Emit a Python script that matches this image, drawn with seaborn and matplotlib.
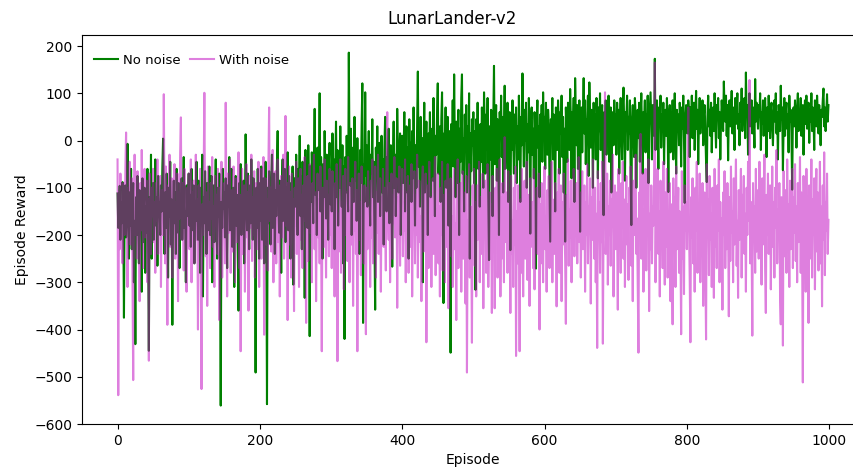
import matplotlib
matplotlib.use("Agg")
import matplotlib.pyplot as plt
import seaborn as sns
import numpy as np
import pandas as pd

title = "LunarLander-v2"
x_label = "Episode"
y_label = "Episode Reward"
series_names = ["No noise", "With noise"]

no_noise = [
    -112, -185, -140, -96, -210, -130, -175, -88, -150, -375,
    -120, -95, -205, -160, -7, -140, -250, -110, -180, -60,
    -230, -145, -90, -300, -170, -431, -120, -200, -75, -160,
    -260, -105, -190, -135, -320, -80, -215, -150, -100, -280,
    -140, -195, -60, -230, -445, -120, -170, -30, -250, -115,
    -90, -210, -145, -40, -180, -120, -265, -75, -160, -130,
    -200, -95, -150, -55, 4, -170, -240, -110, -185, -70,
    -135, -290, -100, -160, -45, -220, -125, -390, -150, -85,
    -175, -110, -240, -60, -140, -195, -90, -270, -120, -165,
    -80, -210, -130, -35, -185, -150, -300, -95, -160, -120,
    -70, -180, -115, -225, -60, -140, -190, -95, -260, -130,
    -170, -45, -150, -210, -85, -125, -280, -100, -160, -30,
    -330, -120, -175, -65, -140, -240, -90, -190, -110, -55,
    -200, -135, -75, -300, -150, -95, -215, -120, -40, -175,
    -250, -100, -160, -70, -230, -561, -130, -185, -60, -145,
    -110, -205, -80, -160, -270, -95, -140, -35, -190, -125,
    -60, -225, -150, -100, -310, -130, -75, -180, -115, -240,
    -360, -90, -145, -50, -200, -120, -165, -85, -260, -140,
    13, -110, -190, -70, -150, -230, -95, -175, -40, -135,
    -210, -80, -155, -120, -491, -100, -185, -60, -145, -250,
    -90, -170, -55, -210, -130, -80, -260, -115, -45, -150,
    -558, -100, -175, -65, -140, -220, -90, -30, -185, -120,
    -70, -240, -105, -160, -50, 20, -130, -195, -85, -150,
    -280, -95, -40, -170, -120, -60, -215, -100, -145, -25,
    -190, -75, -130, -250, -90, -160, -55, -305, -110, -80,
    -140, -30, -110, -200, -60, -95, 10, -160, -75, -230,
    -45, -120, -85, -333, -20, -150, -70, -185, -10, -100,
    -414, -55, -130, -25, -90, -175, -40, 67, -115, -60,
    -200, -15, -105, -70, 100, -150, -35, -90, -250, -50,
    -120, 20, -80, -165, -30, -100, -210, -45, -5, -135,
    -70, -150, 15, -90, -40, -230, -60, 40, -120, -20,
    -180, -50, -100, 30, -75, -140, -10, -260, -55, -420,
    -35, -110, 10, -80, -150, 186, -45, -95, 25, -200,
    -60, -15, -130, 50, -85, -40, -170, 5, -110, -65,
    -240, -20, -90, 35, 121, -386, -50, -130, 102, -75,
    -10, -140, -60, 20, -95, -180, -30, -70, 45, -120,
    -45, -200, -358, -15, -85, 30, -130, -55, -5, -160,
    -70, 10, -110, -40, -220, -20, 50, -90, -150, -35,
    -60, 25, -175, -80, -10, -125, -267, -45, 40, -100,
    -30, -160, -65, 67, -15, -110, -50, 15, -200, -75,
    10, -90, -30, 60, -150, -45, 30, -110, -15, -250,
    45, -60, -5, -130, 20, -80, 70, -40, -180, -10,
    -100, 35, 146, -55, -20, -140, 50, -75, 5, -300,
    -35, 80, -110, -15, 40, -65, -200, 15, -45, 60,
    -120, -25, 25, -85, 90, -50, -160, 10, -30, 55,
    121, -70, -20, 30, -130, 45, 102, -60, -344, 15,
    -40, 70, -100, -10, 50, -180, 20, -75, -449, 35,
    -30, 85, -55, 140, -15, -120, 40, -90, 10, 65,
    -200, 25, -45, 90, 140, -70, 5, -150, 55, -20,
    75, -110, 30, -40, 100, -250, 15, -65, 45, -10,
    60, -90, 20, -316, 45, -30, 80, -60, 10, -140,
    35, -45, 70, -10, -100, 102, 25, -70, 55, -20,
    90, -120, -253, 30, -40, 65, 5, -160, 40, 158,
    -50, 20, 75, -85, 45, -20, -200, 60, 10, 95,
    -35, 50, -110, 15, 116, -60, 35, -15, 80, -130,
    25, 60, -232, 40, -20, 85, 10, -70, 55, -5,
    70, -90, 30, -40, 95, 15, -130, 50, -10, 142,
    20, -55, 65, 0, 80, -100, 35, -25, 90, 10,
    -197, 45, 70, -30, 25, -80, 60, 15, -271, 40,
    85, -15, 30, -120, 55, 5, 75, -45, 102, 20,
    50, -60, 80, 10, -30, 65, 35, -95, -214, 45,
    20, 90, -40, 55, 5, -150, 70, 30, -20, 85,
    40, -70, 60, 15, 95, -35, 50, -110, 25, -214,
    70, 10, -45, 80, 35, -20, 109, 45, -80, 60,
    20, 90, -130, 132, 50, -10, 75, -60, 30, 85,
    -193, 40, 70, -25, 60, 132, 15, 85, -50, 45,
    25, 95, -75, 123, 30, -15, 65, 50, -100, 80,
    10, 55, -40, 90, 35, -80, 70, 20, 100, -20,
    45, 75, -60, -158, 60, 25, 85, -30, 50, 10,
    95, -45, 40, 70, -110, 30, 60, -10, 85, 40,
    55, -30, 80, 20, 65, -70, 45, 90, 10, -40,
    70, 112, 30, -85, 60, 40, 95, -20, 50, 15,
    85, -60, -179, 45, 75, 25, -35, 90, 55, -100,
    30, 65, 5, 80, -45, 50, 100, 20, -70, 60,
    40, 85, -25, 55, 15, 95, -90, 35, 70, 102,
    30, -40, 75, 50, 10, 173, -20, 60, 85, 25,
    -60, 70, 40, 95, -15, 55, 20, 80, -50, 45,
    65, 10, 90, 35, -109, 50, 75, -25, 60, 15,
    85, -40, 45, 100, 30, -70, 65, 20, 55, -10,
    80, 40, -55, 70, 25, 95, 5, -132, 50, 75,
    45, 15, 85, 60, -35, 70, 30, 95, 5, 55,
    80, -20, 50, 105, 25, 65, -50, 40, 90, 15,
    60, 35, 85, -10, 55, 75, 20, -45, -88, 50,
    95, 30, 65, 10, 80, -25, 45, 70, 20, 100,
    40, -15, 75, 55, 90, 5, 60, -40, 35, 85,
    50, 20, 125, 65, 40, 95, 10, 75, -42, 55,
    85, 30, 60, 105, 15, 70, 45, -20, 90, 35,
    65, 100, 25, 55, -10, 80, 40, 110, 20, 60,
    35, 90, 5, 144, 50, 75, -30, 65, 100, 30,
    55, 85, 15, 70, 45, -15, 130, 40, 80, 60,
    25, 75, 50, 100, -20, 60, 35, 85, 10, 55,
    90, 40, -35, 70, 20, 95, 45, 5, 65, 80,
    30, -10, 55, 85, 40, 100, 15, 60, -40, 75,
    50, 20, 116, 45, 70, -63, 35, 90, 10, 60,
    80, 25, 55, -25, 95, 40, 65, 15, -104, 50,
    70, 30, 85, 50, -15, 65, 100, 20, 55, 40,
    90, 10, 60, 75, -30, 45, 85, 35, 95, 25,
    55, 80, -5, 65, 40, 100, 20, 70, 50, -20,
    85, 45, 30, 95, 60, 15, 75, 40, -10, 65,
    50, 85, 110, 30, 70, 20, 60, 98, 40, 75,
]

with_noise = [
    -40, -539, -110, -230, -70, -180, -130, -260, -90, -150,
    -200, -60, 17, -140, -310, -100, -175, -45, -220, -120,
    -80, -290, -507, -155, -30, -200, -110, -250, -65, -170,
    -130, -340, -90, -190, -20, -150, -270, -115, -60, -205,
    -145, -85, -300, -125, -466, -70, -180, -240, -100, -160,
    -60, -215, -130, -280, -90, -170, -40, -240, -120, -190,
    -75, -310, -150, -105, -200, 98, -135, -260, -55, -180,
    -390, -95, -160, -30, -225, -140, -80, -290, -115, -175,
    -50, -250, -130, -200, -70, -340, -110, -165, -25, 49,
    -210, -90, -145, -275, -60, -185, -120, -320, -100, -155,
    -70, -230, -140, -40, -300, -110, -190, -85, -260, -150,
    -30, -210, -125, -400, -95, -175, -60, -285, -526, -135,
    -200, -80, 101, -160, -245, -110, -350, -55, -190, -130,
    -270, -90, -165, -35, -225, -140, -310, -75, -180, -115,
    -240, -60, -155, -380, -100, -205, -45, -290, -130, -170,
    -90, -260, 80, -145, -330, -70, -195, -120, -40, -280,
    -160, -105, -235, -55, -185, -300, -130, -80, -215, -150,
    -25, -270, -115, -446, -170, -60, -240, -135, -95, -320,
    -140, -50, -205, -110, -360, -75, -185, -150, -30, -255,
    -120, -200, -65, -290, -140, -90, -230, -175, -45, -310,
    -130, -60, -250, -105, -190, -35, -411, -150, -80, -220,
    -125, -275, -50, 70, -170, -100, -235, -145, -20, -300,
    -110, -185, -65, -260, -140, -40, -215, -95, -330, -160,
    -75, -205, -120, -30, -250, -150, 52, -180, -90, -380,
    -135, -55, -220, -110, -290, -70, -175, -125, -361, -100,
    -180, -45, -240, -130, -80, -310, -155, -60, -210, -115,
    -270, -95, -170, -35, -225, -386, -140, -75, -255, -120,
    -50, -195, -150, -300, -90, -165, -30, -230, -110, -340,
    -140, -70, -205, -125, -260, -55, -185, -446, -100, -150,
    -225, -40, -130, -290, -85, -175, -115, -245, -60, -200,
    -120, -270, -65, -185, -140, -330, -90, -210, -50, -467,
    -155, -235, -100, -40, -280, -130, -175, -75, -315, -145,
    -60, -200, -110, -255, -35, -165, -300, -90, -140, -220,
    -80, -350, -125, -190, -45, -240, -105, -446, -160, -70,
    -210, -130, -285, -55, -175, -110, -260, -95, -150, -410,
    -100, -230, -65, -180, -140, -310, -85, -205, -40, -260,
    -125, -170, -55, -290, -110, -195, -30, -240, -145, -80,
    -320, -120, -185, -60, -225, -100, -160, -275, -45, 60,
    -150, -210, -90, -300, -130, -70, -250, -115, -175, -35,
    -205, -140, -80, -354, -120, -180, -55, -265, -100, -160,
    -60, -245, -130, -190, -40, -300, -110, -170, -75, -280,
    -150, -95, -225, -50, -330, -135, -180, -65, -260, -115,
    -200, -30, -290, -140, -85, -215, -160, -340, -100, -55,
    -235, -125, -180, -70, -427, -150, -95, -270, -45, -205,
    -120, -310, -165, -80, -240, -110, -35, -285, -145, -195,
    -70, -260, -140, -330, -100, -200, -45, -275, -165, -115,
    -300, -85, -225, -150, -50, -355, -130, -190, -80, -245,
    -160, -310, -105, -60, -230, -175, -380, -120, -40, -270,
    -135, -210, -90, -320, -155, -65, -250, -185, -110, -345,
    -75, -491, -170, -225, -50, -290, -140, -200, -428, -95,
    -180, -60, -265, -130, -330, -95, -210, -150, -45, -300,
    -120, -240, -175, -70, -355, -140, -200, -85, -280, -160,
    -50, -310, -190, -110, -250, -135, -365, -75, -220, -165,
    -355, -100, -205, -60, -290, -145, -185, -40, -330, -120,
    -250, -90, -170, -300, 7, -155, -215, -110, -280, -65,
    -200, -130, -365, -75, -240, -170, -310, -100, -220, -55,
    -456, -150, -260, -95, -190, -446, -125, -280, -60, -210,
    -330, -140, -85, -250, -175, -45, -295, -160, -115, -350,
    -80, -225, -190, -130, -270, -60, -315, -150, -205, -100,
    -240, -170, -70, -400, -135, -260, -90, -195, -300, -120,
    -55, -230, -160, -320, -105, -190, -75, -270, -140, -210,
    -45, -300, -125, -180, -240, -90, -165, -351, -110, -205,
    -60, -280, -150, -95, -340, -130, -220, -70, -185, -250,
    -388, -115, -170, -40, -265, -145, -205, -85, -300, -135,
    -190, -60, -245, -120, -175, -90, -260, -155, -35, -215,
    -110, -290, -150, -65, -230, -175, -95, -320, -130, -200,
    -50, -260, -140, -185, -80, -345, -120, -210, -40, -170,
    -250, -100, -300, -155, -439, -65, -195, -130, -280, -90,
    -215, -45, -430, -160, -115, 102, -240, -175, -70, -305,
    -140, -200, -85, -265, -125, -180, -30, -330, -150, -95,
    -230, -110, -170, -358, -60, -205, -140, -280, -90, -185,
    -45, -250, -125, -310, -160, -75, -220, -135, -295, -100,
    -180, -55, -265, -150, -340, -85, -200, -120, -30, -240,
    -165, -300, -449, -110, -190, 14, -250, -135, -70, -320,
    -145, -215, -60, -275, -120, -180, -40, -361, -155, -230,
    -95, -260, -140, -180, -70, 165, -300, -125, -210, -60,
    -240, -150, -330, -85, -195, -130, -270, -45, -175, -305,
    -110, -225, -60, -290, -160, -200, -90, -340, -135, -245,
    -389, -80, -185, -120, -310, -55, -230, -170, -100, -280,
    -150, -215, -410, -65, -250, -140, -325, -95, -190, -130,
    -230, -60, 70, -175, -290, -427, -120, -205, -80, -260,
    -145, -320, -100, -190, -45, -280, -155, -215, -70, -300,
    -135, -240, -90, -350, -165, -110, -260, -421, -50, -195,
    -125, -285, -75, -210, -155, -310, -100, -180, -333, -60,
    -225, -140, -270, -95, -190, -40, -300, -130, -245, -165,
    -358, -110, -200, -65, -270, -145, -230, -90, -180, -372,
    -120, -255, -55, -195, -150, -300, -80, -220, -130, -40,
    -265, -170, -333, -105, -210, -145, -60, -290, -115, -185,
    -75, -240, -155, -320, -100, -200, -45, -170, 128, -260,
    -130, -215, -413, -90, -185, -140, -280, -60, -235, -160,
    -105, -250, -45, -190, -135, -305, -80, -220, -160, -30,
    -270, -365, -115, -200, -70, -240, -150, -95, -315, -175,
    -55, -225, -130, -290, -100, -185, -20, -260, -145, -210,
    -90, -330, -389, -120, -175, -434, -65, -245, -160, -105,
    -280, -40, -200, -135, -310, -85, -230, -155, -60, -270,
    -120, -195, -50, -255, -140, -300, -90, -215, -165, -35,
    -280, -110, -230, -512, -75, -185, -145, -320, -60, -205,
    -130, -386, -95, -250, -170, -40, -290, -125, -200, -80,
    -315, -150, -60, -235, -110, -275, -180, -45, -260, -140,
    -351, -95, -210, -25, -285, -130, -190, -70, -240, -168,
]

episodes = list(range(len(no_noise)))

df = pd.DataFrame({
    "Episode": episodes * 2,
    "Reward": no_noise + with_noise,
    "Series": [series_names[0]] * len(no_noise) + [series_names[1]] * len(with_noise),
})

plt.rcParams["font.family"] = ["DejaVu Sans"]
fig = plt.figure(figsize=(8.54, 4.70), dpi=100)
ax = fig.add_axes([82 / 854, 46 / 470, (864 - 82) / 854, (424 - 35) / 470])

sns.lineplot(data=df[df["Series"] == series_names[0]], x="Episode", y="Reward",
             color="green", linewidth=1.5, estimator=None, ax=ax, label=series_names[0])
sns.lineplot(data=df[df["Series"] == series_names[1]], x="Episode", y="Reward",
             color="m", alpha=0.5, linewidth=1.5, estimator=None, ax=ax, label=series_names[1])

ax.set_title(title, fontsize=12, x=0.473, pad=8)
ax.set_xlabel(x_label, fontsize=10)
ax.set_ylabel(y_label, fontsize=10)
ax.set_xticks([0, 200, 400, 600, 800, 1000])
ax.set_yticks([-600, -500, -400, -300, -200, -100, 0, 100, 200])
ax.spines["right"].set_visible(False)
ax.legend(loc="upper left", bbox_to_anchor=(0.0, 0.982), ncol=2, frameon=False,
          fontsize=9.5, handlelength=1.8, handletextpad=0.4, columnspacing=0.7)
ax.grid(False)

fig.savefig("out.png", dpi=100)
